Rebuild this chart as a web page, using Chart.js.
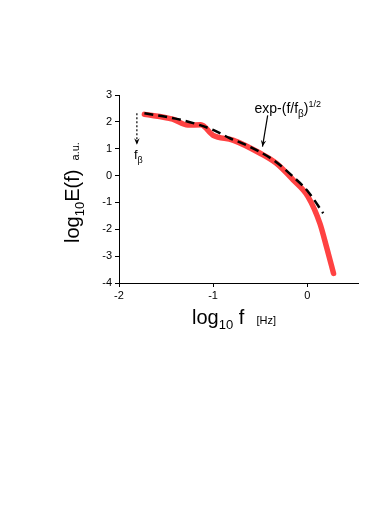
<!DOCTYPE html>
<html>
<head>
<meta charset="utf-8">
<script src="https://cdn.jsdelivr.net/npm/chart.js@4/dist/chart.umd.min.js"></script>
<style>
  html, body { margin: 0; padding: 0; background: #fff; }
  #wrap { width: 390px; height: 510px; }
</style>
</head>
<body>
<div id="wrap"><canvas id="spectrum" width="390" height="510"></canvas></div>
<script>
// measured spectrum (log10 f, log10 E)
const measX = [-1.73, -1.43, -1.27, -1.13, -1.00, -0.79, -0.50, -0.33, -0.15, 0.01, 0.135, 0.205, 0.28];
const measY = [2.28, 2.10, 1.88, 1.89, 1.50, 1.32, 0.83, 0.46, -0.16, -0.79, -1.78, -2.65, -3.64];
// stretched exponential fit
const fitX = [-1.73, -1.40, -1.14, -1.00, -0.82, -0.65, -0.36, -0.15, 0.01, 0.17];
const fitY = [2.32, 2.12, 1.88, 1.70, 1.39, 1.14, 0.58, -0.04, -0.60, -1.40];
const xTicks = [-2, -1, 0];
const yTicks = [-4, -3, -2, -1, 0, 1, 2, 3];

const font = '"Liberation Sans", Arial, sans-serif';

function richText(ctx, parts, x, y) {
    // parts: [text, size, dy]
    let cx = x;
    parts.forEach(p => {
        ctx.font = p[1] + 'px ' + font;
        ctx.fillText(p[0], cx, y + (p[2] || 0));
        cx += ctx.measureText(p[0]).width;
    });
}

function arrow(ctx, x1, y1, x2, y2, dashed) {
    ctx.save();
    ctx.strokeStyle = '#000';
    ctx.lineWidth = 1.2;
    if (dashed) ctx.setLineDash([2, 2]);
    ctx.beginPath();
    ctx.moveTo(x1, y1);
    ctx.lineTo(x2, y2);
    ctx.stroke();
    ctx.setLineDash([]);
    const a = Math.atan2(y2 - y1, x2 - x1);
    const L = 7, s = 0.4;
    ctx.fillStyle = '#000';
    ctx.beginPath();
    ctx.moveTo(x2, y2);
    ctx.lineTo(x2 - L * Math.cos(a - s), y2 - L * Math.sin(a - s));
    ctx.lineTo(x2 - L * 0.6 * Math.cos(a), y2 - L * 0.6 * Math.sin(a));
    ctx.lineTo(x2 - L * Math.cos(a + s), y2 - L * Math.sin(a + s));
    ctx.closePath();
    ctx.fill();
    ctx.restore();
}

const labels = {
    id: 'labels',
    afterDraw(chart) {
        const ctx = chart.ctx;
        const xs = chart.scales.x, ys = chart.scales.y;
        ctx.save();
        ctx.fillStyle = '#000';
        ctx.textBaseline = 'alphabetic';
        ctx.textAlign = 'left';
        // x title
        richText(ctx, [['log', 20], ['10', 13, 5], [' f', 20], ['    [Hz]', 11]], 192, 324);
        // y title
        ctx.save();
        ctx.translate(79, 243);
        ctx.rotate(-Math.PI / 2);
        richText(ctx, [['log', 20], ['10', 13, 5], ['E(f)', 20], ['   a.u.', 11]], 0, 0);
        ctx.restore();
        // f_beta marker
        const bx = xs.getPixelForValue(-1.81);
        arrow(ctx, bx, ys.getPixelForValue(2.32), bx, ys.getPixelForValue(1.15), true);
        richText(ctx, [['f', 13], ['β', 9, 4]], bx - 3, ys.getPixelForValue(0.6));
        // fit label
        richText(ctx, [['exp-(f/f', 14], ['β', 10, 4], [')', 14], ['1/2', 9, -6]], xs.getPixelForValue(-0.56), ys.getPixelForValue(2.33));
        arrow(ctx, xs.getPixelForValue(-0.42), ys.getPixelForValue(2.24), xs.getPixelForValue(-0.475), ys.getPixelForValue(1.08), false);
        ctx.restore();
    }
};

const ctx = document.getElementById('spectrum').getContext('2d');
new Chart(ctx, {
    type: 'scatter',
    data: {
        datasets: [{
            data: fitX.map((x, i) => ({ x: x, y: fitY[i] })),
            showLine: true,
            borderColor: '#000',
            borderWidth: 2.5,
            borderDash: [9, 5],
            pointRadius: 0,
            cubicInterpolationMode: 'monotone',
            order: 1
        }, {
            data: measX.map((x, i) => ({ x: x, y: measY[i] })),
            showLine: true,
            borderColor: 'rgb(255, 66, 66)',
            borderWidth: 5.5,
            pointRadius: 0,
            cubicInterpolationMode: 'monotone',
            borderCapStyle: 'round',
            borderJoinStyle: 'round',
            order: 2
        }]
    },
    options: {
        responsive: false,
        animation: false,
        layout: { padding: { left: 0, top: 95, right: 32, bottom: 0 } },
        plugins: { legend: { display: false }, tooltip: { enabled: false } },
        scales: {
            x: {
                type: 'linear',
                min: -2,
                max: 0.54,
                afterBuildTicks: s => { s.ticks = xTicks.map(v => ({ value: v })); },
                afterFit: s => { s.height = 227; },
                grid: { drawOnChartArea: false, drawTicks: true, tickLength: 4, color: '#000' },
                border: { color: '#000', width: 1 },
                ticks: { color: '#000', font: { family: font, size: 11 }, padding: 2, maxRotation: 0 }
            },
            y: {
                type: 'linear',
                min: -4,
                max: 3,
                afterBuildTicks: s => { s.ticks = yTicks.map(v => ({ value: v })); },
                afterFit: s => { s.width = 119; },
                grid: { drawOnChartArea: false, drawTicks: true, tickLength: 4, color: '#000' },
                border: { color: '#000', width: 1 },
                ticks: { color: '#000', font: { family: font, size: 11 }, padding: 3 }
            }
        }
    },
    plugins: [labels]
});
</script>
</body>
</html>
